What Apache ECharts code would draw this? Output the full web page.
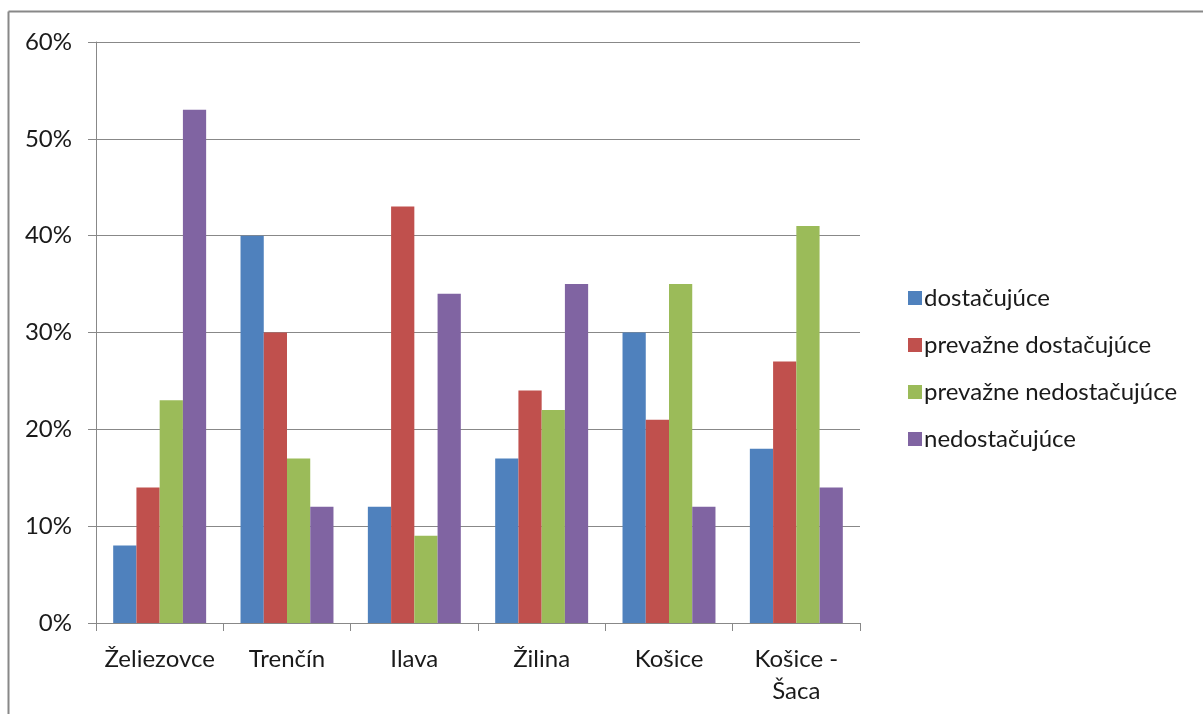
<!DOCTYPE html>
<html>
<head>
<meta charset="utf-8">
<script src="https://cdn.jsdelivr.net/npm/echarts@6/dist/echarts.min.js"></script>
<style>
  html, body { margin: 0; padding: 0; background: #fff; }
  #chart { width: 1203px; height: 714px; }
</style>
</head>
<body>
<div id="chart"></div>
<script>
// Categories (towns) and the share of answers per rating
const categories = ['Želiezovce', 'Trenčín', 'Ilava', 'Žilina', 'Košice', 'Košice -\nŠaca'];
const seriesNames = ['dostačujúce', 'prevažne dostačujúce', 'prevažne nedostačujúce', 'nedostačujúce'];
const dostacujuce = [8, 40, 12, 17, 30, 18];
const prevazneDostacujuce = [14, 30, 43, 24, 21, 27];
const prevazneNedostacujuce = [23, 17, 9, 22, 35, 41];
const nedostacujuce = [53, 12, 34, 35, 12, 14];
const yTicks = [0, 10, 20, 30, 40, 50, 60];

const colors = ['#4F81BD', '#C0504D', '#9BBB59', '#8064A2'];
const values = [dostacujuce, prevazneDostacujuce, prevazneNedostacujuce, nedostacujuce];
const font = 'Lato, "Open Sans", "DejaVu Sans", sans-serif';
const textColor = '#1a1a1a';

const chart = echarts.init(document.getElementById('chart'), null, { renderer: 'canvas' });

chart.setOption({
  animation: false,
  backgroundColor: '#fff',
  color: colors,
  grid: { left: 96, right: 343, top: 42, bottom: 91, containLabel: false },
  legend: {
    orient: 'vertical',
    left: 903,
    top: 281,
    itemWidth: 14,
    itemHeight: 14,
    itemGap: 23,
    icon: 'rect',
    textStyle: { fontFamily: font, fontSize: 24, color: textColor, padding: [0, 0, 0, -3] },
    data: seriesNames
  },
  xAxis: {
    type: 'category',
    data: categories,
    axisLine: { lineStyle: { color: '#888', width: 1 } },
    axisTick: { show: true, length: 8, lineStyle: { color: '#888' }, alignWithLabel: false },
    axisLabel: { fontFamily: font, fontSize: 24, color: textColor, margin: 20, lineHeight: 32, interval: 0 }
  },
  yAxis: {
    type: 'value',
    min: yTicks[0],
    max: yTicks[yTicks.length - 1],
    interval: 10,
    axisLine: { show: true, lineStyle: { color: '#888', width: 1 } },
    axisTick: { show: true, length: 8, lineStyle: { color: '#888' } },
    splitLine: { show: true, lineStyle: { color: '#888', width: 1 } },
    axisLabel: { fontFamily: font, fontSize: 24, color: textColor, margin: 24, formatter: '{value}%' }
  },
  series: seriesNames.map((name, i) => ({
    name: name,
    type: 'bar',
    data: values[i],
    barGap: '0%',
    barCategoryGap: '27%',
    itemStyle: { color: colors[i] }
  })),
  graphic: [
    { type: 'line', shape: { x1: 8.5, y1: 11.5, x2: 1203, y2: 11.5 }, style: { stroke: '#888', lineWidth: 2 } },
    { type: 'line', shape: { x1: 8.5, y1: 11.5, x2: 8.5, y2: 714 }, style: { stroke: '#888', lineWidth: 2 } }
  ]
});
</script>
</body>
</html>
